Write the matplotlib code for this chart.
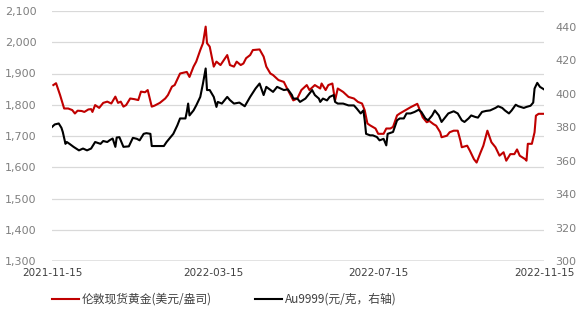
import matplotlib
matplotlib.use("Agg")
import matplotlib.pyplot as plt
import matplotlib.dates as mdates
import pandas as pd

plt.rcParams["font.family"] = ["DejaVu Sans"]

START = pd.Timestamp("2021-11-15")

# 伦敦现货黄金 (美元/盎司), days after 2021-11-15
gold_days = [1, 3, 6, 9, 12, 15, 17, 19, 22, 24, 27, 29, 30, 32, 35, 38, 41, 44, 47, 49,
             51, 53, 55, 58, 61, 64, 66, 69, 71, 74, 76, 80, 84, 86, 89, 91, 95, 100, 102, 105,
             107, 110, 112, 114, 115, 117, 120, 122, 125, 130, 132, 135, 137, 140, 142, 144, 147, 149, 154, 157,
             159, 162, 164, 168, 172, 175, 179, 182, 185, 189, 191, 195, 199, 200, 203, 205, 208, 210, 212, 216,
             220, 224, 227, 230, 232, 234, 236, 240, 242, 246, 248, 251, 253, 256, 258, 262, 266, 271, 273, 275,
             278, 280, 283, 285, 288, 289, 293, 295, 298, 301, 303, 304, 308, 310, 313, 315, 318, 320, 323, 326,
             329, 332, 335, 337, 340, 343, 345, 347, 351, 352, 353, 356, 358, 359, 361, 365]
gold_usd = [1863, 1869, 1831, 1788, 1788, 1783, 1772, 1781, 1780, 1777, 1785, 1786, 1777, 1799, 1790, 1806, 1810, 1804, 1826, 1806,
            1810, 1794, 1799, 1820, 1818, 1815, 1842, 1840, 1847, 1794, 1797, 1806, 1820, 1831, 1858, 1863, 1900, 1905, 1889, 1922,
            1938, 1975, 1997, 2050, 1997, 1986, 1922, 1938, 1927, 1959, 1927, 1922, 1938, 1927, 1932, 1949, 1959, 1975, 1977, 1954,
            1922, 1900, 1895, 1879, 1873, 1847, 1814, 1820, 1847, 1863, 1847, 1863, 1852, 1868, 1847, 1863, 1868, 1814, 1852, 1841,
            1825, 1820, 1809, 1804, 1782, 1740, 1734, 1724, 1707, 1707, 1724, 1724, 1729, 1766, 1772, 1782, 1792, 1803, 1782, 1760,
            1744, 1748, 1738, 1733, 1712, 1696, 1701, 1712, 1717, 1717, 1685, 1664, 1669, 1653, 1626, 1615, 1648, 1669, 1717, 1680,
            1664, 1637, 1648, 1621, 1642, 1642, 1657, 1637, 1626, 1621, 1675, 1675, 1712, 1765, 1771, 1771]

# Au9999 (元/克), days after 2021-11-15
au_days = [0, 2, 5, 7, 8, 10, 11, 13, 16, 20, 23, 26, 29, 32, 36, 38, 41, 43, 45, 47,
           48, 50, 53, 57, 60, 63, 65, 68, 70, 73, 74, 78, 83, 85, 88, 90, 93, 95, 99, 100,
           101, 102, 105, 107, 110, 112, 114, 115, 117, 120, 122, 123, 126, 130, 132, 135, 139, 143, 147, 151,
           154, 157, 159, 164, 167, 172, 175, 178, 179, 182, 184, 188, 191, 193, 195, 198, 199, 201, 204, 206,
           209, 210, 212, 216, 220, 224, 226, 229, 231, 232, 233, 236, 238, 241, 243, 246, 248, 249, 253, 256,
           258, 261, 263, 266, 269, 272, 274, 277, 279, 282, 284, 287, 289, 292, 294, 298, 301, 304, 306, 309,
           311, 314, 316, 319, 322, 325, 329, 331, 334, 336, 339, 341, 344, 346, 350, 352, 355, 357, 358, 360,
           362, 365]
au_cny = [380.2, 381.7, 382.3, 379.7, 377.2, 370.1, 371.2, 370.1, 368.3, 366.2, 367.3, 366.2, 367.3, 371.2, 370.1, 371.8, 371.2, 372.4, 373.3, 368.3,
          373.9, 374.1, 368.3, 368.6, 373.7, 373.1, 372.2, 376.1, 376.5, 376.1, 368.8, 368.8, 368.8, 371.2, 374.2, 376.1, 381.2, 385.3, 385.3, 389.2,
          394.2, 387.1, 390.1, 393.1, 398.2, 406.2, 415.2, 402.3, 402.3, 398.2, 392.2, 395.2, 394.2, 398.2, 396.3, 394.2, 394.8, 392.6, 398.2, 403.2,
          406.2, 399.3, 404.2, 401.2, 404.2, 402.3, 402.7, 399.3, 397.2, 397.2, 395.2, 397.2, 400.2, 402.3, 399.3, 397.2, 395.2, 397.2, 396.1, 398.2,
          399.3, 395.2, 394.2, 394.2, 393.1, 393.1, 391.3, 388.3, 390.1, 384.2, 376.1, 375.2, 375.2, 374.2, 372.2, 373.1, 369.2, 376.1, 377.2, 384.2,
          385.3, 385.3, 388.3, 388.3, 389.2, 390.5, 389.2, 385.3, 384.2, 387.1, 390.1, 387.1, 383.2, 386.2, 388.3, 389.6, 388.3, 384.2, 383.2, 385.3,
          387.1, 386.2, 385.8, 389.2, 389.8, 390.1, 391.6, 392.6, 391.6, 390.1, 388.3, 390.1, 393.5, 392.6, 391.6, 392.2, 392.9, 394.8, 403.2, 406.6,
          404.2, 402.7]

x_ticks = ["2021-11-15", "2022-03-15", "2022-07-15", "2022-11-15"]
left_ticks = list(range(1300, 2101, 100))
right_ticks = list(range(300, 441, 20))

gold_dates = START + pd.to_timedelta(gold_days, unit="D")
au_dates = START + pd.to_timedelta(au_days, unit="D")

fig = plt.figure(figsize=(5.84, 3.10), dpi=100)
ax = fig.add_axes([52 / 584, 49 / 310, 492 / 584, 250 / 310])
ax2 = ax.twinx()

l1, = ax.plot(gold_dates, gold_usd, color="#c00000", lw=1.5, label="伦敦现货黄金(美元/盎司)")
l2, = ax2.plot(au_dates, au_cny, color="#000000", lw=1.5, label="Au9999(元/克，右轴)")

ax.set_xlim(pd.Timestamp(x_ticks[0]), pd.Timestamp(x_ticks[-1]))
ax.set_ylim(1300, 2100)
ax.set_yticks(left_ticks)
ax.set_yticklabels([f"{v:,}" for v in left_ticks])
ax2.set_ylim(300, 449.6)
ax2.set_yticks(right_ticks)

ax.set_xticks([pd.Timestamp(t) for t in x_ticks])
ax.xaxis.set_major_formatter(mdates.DateFormatter("%Y-%m-%d"))

ax.grid(axis="y", color="#d9d9d9", lw=0.9)
ax.set_axisbelow(True)
for a in (ax, ax2):
    for s in ("top", "left", "right", "bottom"):
        a.spines[s].set_visible(False)
ax.axhline(1300, color="#868686", lw=1.0, zorder=1)

ax.tick_params(axis="y", length=0, labelsize=8, labelcolor="#7f7f7f", pad=11)
ax2.tick_params(axis="y", length=0, labelsize=8, labelcolor="#7f7f7f", pad=8)
ax.tick_params(axis="x", length=0, labelsize=7.5, labelcolor="#404040", pad=5)

fig.legend(handles=[l1, l2], loc="lower left", bbox_to_anchor=(46 / 584, -0.005), ncol=2, frameon=False,
           prop={"family": ["Noto Sans CJK SC", "DejaVu Sans"], "size": 8.5},
           handlelength=2.3, handletextpad=0.25, columnspacing=3.6, labelcolor="#404040",
           borderaxespad=0.2, borderpad=0.3)

fig.savefig("out.png", dpi=100)
